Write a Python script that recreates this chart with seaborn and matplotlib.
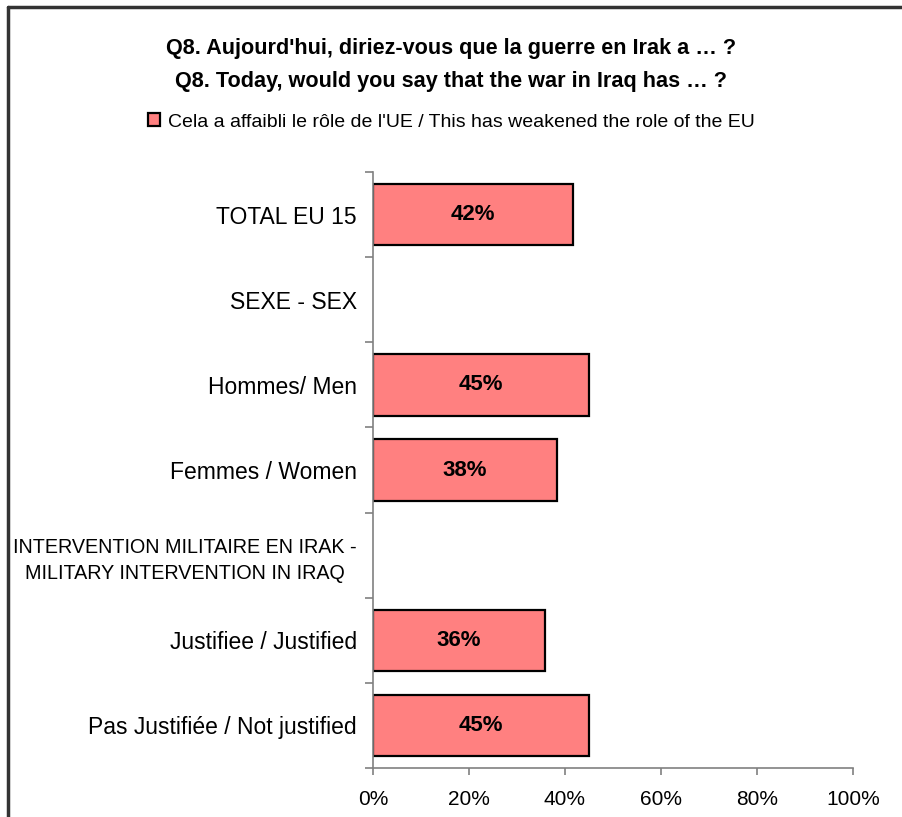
import numpy as np
import pandas as pd
import seaborn as sns
import matplotlib.pyplot as plt
from matplotlib.lines import Line2D

# chart data
categories = [
    "TOTAL EU 15",
    "SEXE - SEX",
    "Hommes/ Men",
    "Femmes / Women",
    "INTERVENTION MILITAIRE EN IRAK -\nMILITARY INTERVENTION IN IRAQ",
    "Justifiee / Justified",
    "Pas Justifiée / Not justified",
]
values = [41.7, np.nan, 45.1, 38.3, np.nan, 35.8, 45.0]
series_name = "Cela a affaibli le rôle de l'UE / This has weakened the role of the EU"
x_ticks = [0, 20, 40, 60, 80, 100]
x_tick_labels = [f"{t}%" for t in x_ticks]
title = ("Q8. Aujourd'hui, diriez-vous que la guerre en Irak a … ?\n"
         "Q8. Today, would you say that the war in Iraq has … ?")

df = pd.DataFrame({"category": categories, "value": values, "series": series_name})

sns.set_style("ticks")
plt.rcParams["font.family"] = ["Liberation Sans", "DejaVu Sans"]
plt.rcParams["text.color"] = "black"
plt.rcParams["xtick.labelcolor"] = "black"
plt.rcParams["ytick.labelcolor"] = "black"

fig = plt.figure(figsize=(9.03, 8.17), dpi=100)
ax = fig.add_axes([373 / 903, 1 - 768 / 817, 480 / 903, (768 - 172) / 817])

sns.barplot(data=df, x="value", y="category", hue="series", order=categories,
            palette=["#FF8080"], saturation=1, edgecolor="black", linewidth=1.6,
            width=0.72, orient="h", ax=ax)

# value labels inside bars
for i, v in enumerate(values):
    if not np.isnan(v):
        ax.text(v / 2, i, f"{v:.0f}%", ha="center", va="center",
                fontsize=16, fontweight="bold", color="black")

ax.set_xlim(0, 100)
ax.set_ylim(len(categories) - 0.5, -0.5)
ax.set_xticks(x_ticks)
ax.set_xticklabels(x_tick_labels, fontsize=15)
ax.set_yticks(range(len(categories)))
ax.set_yticklabels(categories, fontsize=16.5, multialignment="center")
for lbl in ax.get_yticklabels():
    if "\n" in lbl.get_text():
        lbl.set_fontsize(14.2)
        lbl.set_linespacing(1.45)
ax.set_yticks(np.arange(-0.5, len(categories), 1), minor=True)
ax.tick_params(axis="y", which="major", length=0, pad=11.5)
ax.tick_params(axis="y", which="minor", length=6, width=1.2, color="#808080")
ax.tick_params(axis="x", length=5, width=1.2, color="#808080", pad=11)
ax.set_xlabel("")
ax.set_ylabel("")
sns.despine(ax=ax)
for side in ["left", "bottom"]:
    ax.spines[side].set_color("#808080")
    ax.spines[side].set_linewidth(1.2)

# legend at the top
handles, labels = ax.get_legend_handles_labels()
ax.legend_.remove()
fig.legend(handles, labels, loc="center", bbox_to_anchor=(0.5, 1 - 122 / 817),
           frameon=False, fontsize=14.0, handlelength=0.6, handleheight=0.6,
           handletextpad=0.4)

fig.text(0.5, 1 - 65 / 817, title, ha="center", va="center", fontsize=15.6,
         fontweight="bold", linespacing=1.8)

# page frame
fig.add_artist(Line2D([8 / 903, 8 / 903], [0, 1 - 7 / 817], color="#333333", lw=2.5))
fig.add_artist(Line2D([8 / 903, 1], [1 - 7 / 817, 1 - 7 / 817], color="#333333", lw=2.5))

fig.savefig("out.png", dpi=100)
